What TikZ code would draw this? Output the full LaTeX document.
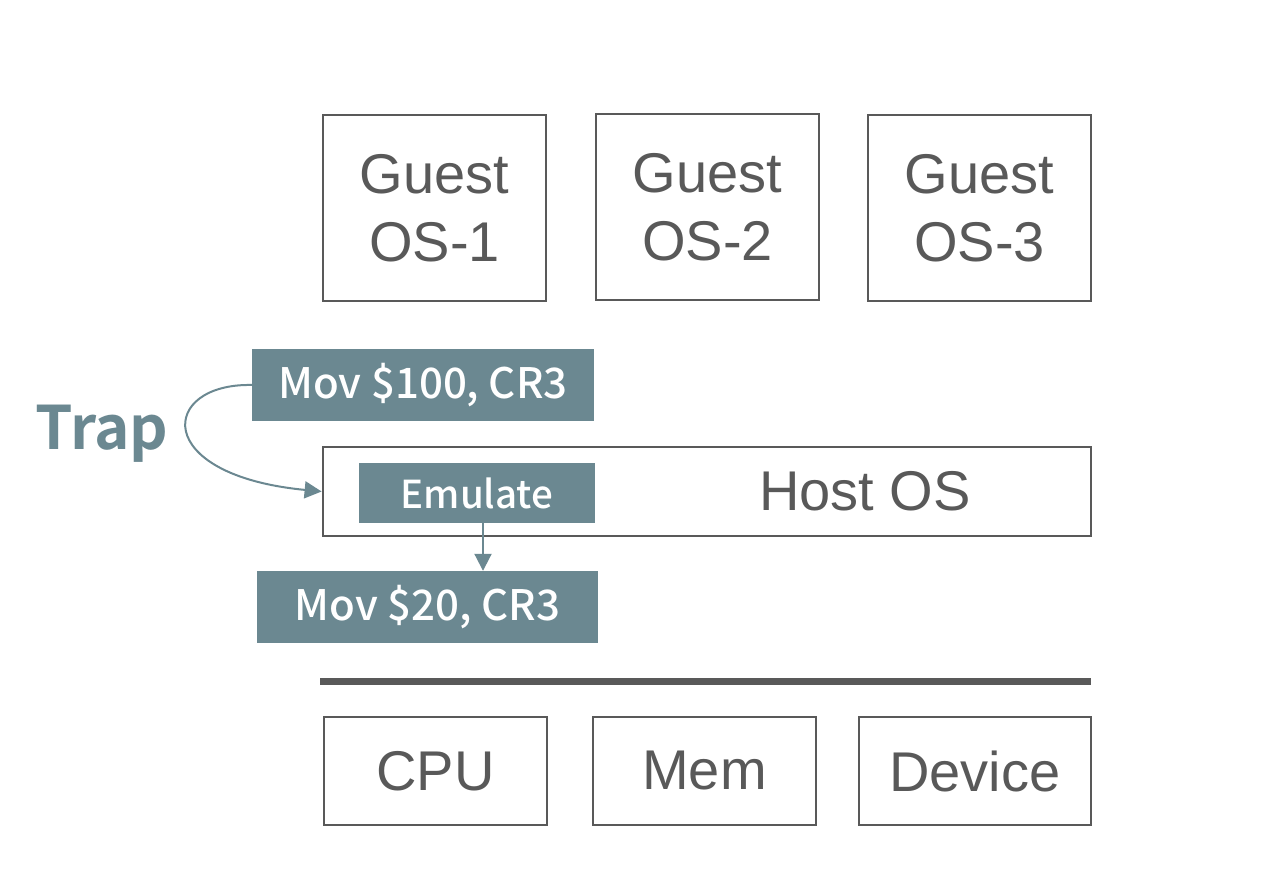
\documentclass[tikz,border=0pt]{standalone}
\usepackage{fontspec}
\setmainfont{Liberation Sans}
\newfontfamily\labfont{Noto Sans CJK SC Medium}
\newfontfamily\trapfont{Noto Sans CJK SC Bold}
\usetikzlibrary{arrows.meta}
\definecolor{boxgray}{HTML}{595959}
\definecolor{slate}{HTML}{6B8891}
\tikzset{
  plainbox/.style={draw=boxgray, line width=2.8pt, inner sep=0pt, text=boxgray,
    font=\fontsize{56}{68}\selectfont, align=center},
  codebox/.style={fill=slate, inner sep=0pt, text=white,
    font=\labfont\fontsize{42}{46}\selectfont},
  slatearrow/.style={draw=slate, line width=2pt, -{Triangle[length=17pt,width=17pt]}}
}
\begin{document}
\begin{tikzpicture}[x=1pt,y=-1pt]
\useasboundingbox (0,0) rectangle (1272,890);
% guest boxes
\node[plainbox, minimum width=223pt, minimum height=186pt] (g1) at (434.5,208) {Guest\\OS-1};
\node[plainbox, minimum width=223pt, minimum height=186pt] (g2) at (707.5,207) {Guest\\OS-2};
\node[plainbox, minimum width=223pt, minimum height=186pt] (g3) at (979.5,208) {Guest\\OS-3};
% host OS
\node[plainbox, minimum width=768pt, minimum height=89pt] (host) at (707,491.5) {};
\node[text=boxgray, font=\fontsize{56}{68}\selectfont, inner sep=0pt] (hostlabel) at (865,491) {Host OS};
% code boxes
\node[codebox, minimum width=342pt, minimum height=72pt] (mov100) at (423,385) {Mov \$100, CR3};
\node[codebox, minimum width=236pt, minimum height=60pt, font=\labfont\fontsize{38.5}{42}\selectfont] (emu) at (477,493) {Emulate};
\node[codebox, minimum width=341pt, minimum height=72pt] (mov20) at (427.5,607) {Mov \$20, CR3};
\node[text=slate, font=\trapfont\fontsize{60}{64}\selectfont, inner sep=0pt] (trap) at (102,434) {Trap};
% arrows
\draw[slatearrow] (mov100.west) .. controls (160,383) and (150,475) .. (host.west);
\draw[slatearrow] (emu.south -| 483,0) -- (mov20.north -| 483,0);
% hardware line
\draw[draw=boxgray, line width=7pt] (320,681) -- (1091,681);
% hardware boxes
\node[plainbox, minimum width=223pt, minimum height=108pt] (cpu) at (435.5,771) {CPU};
\node[plainbox, minimum width=223pt, minimum height=108pt] (mem) at (704.5,771) {Mem};
\node[plainbox, minimum width=232pt, minimum height=108pt] (dev) at (975,771) {Device};
\end{tikzpicture}
\end{document}
